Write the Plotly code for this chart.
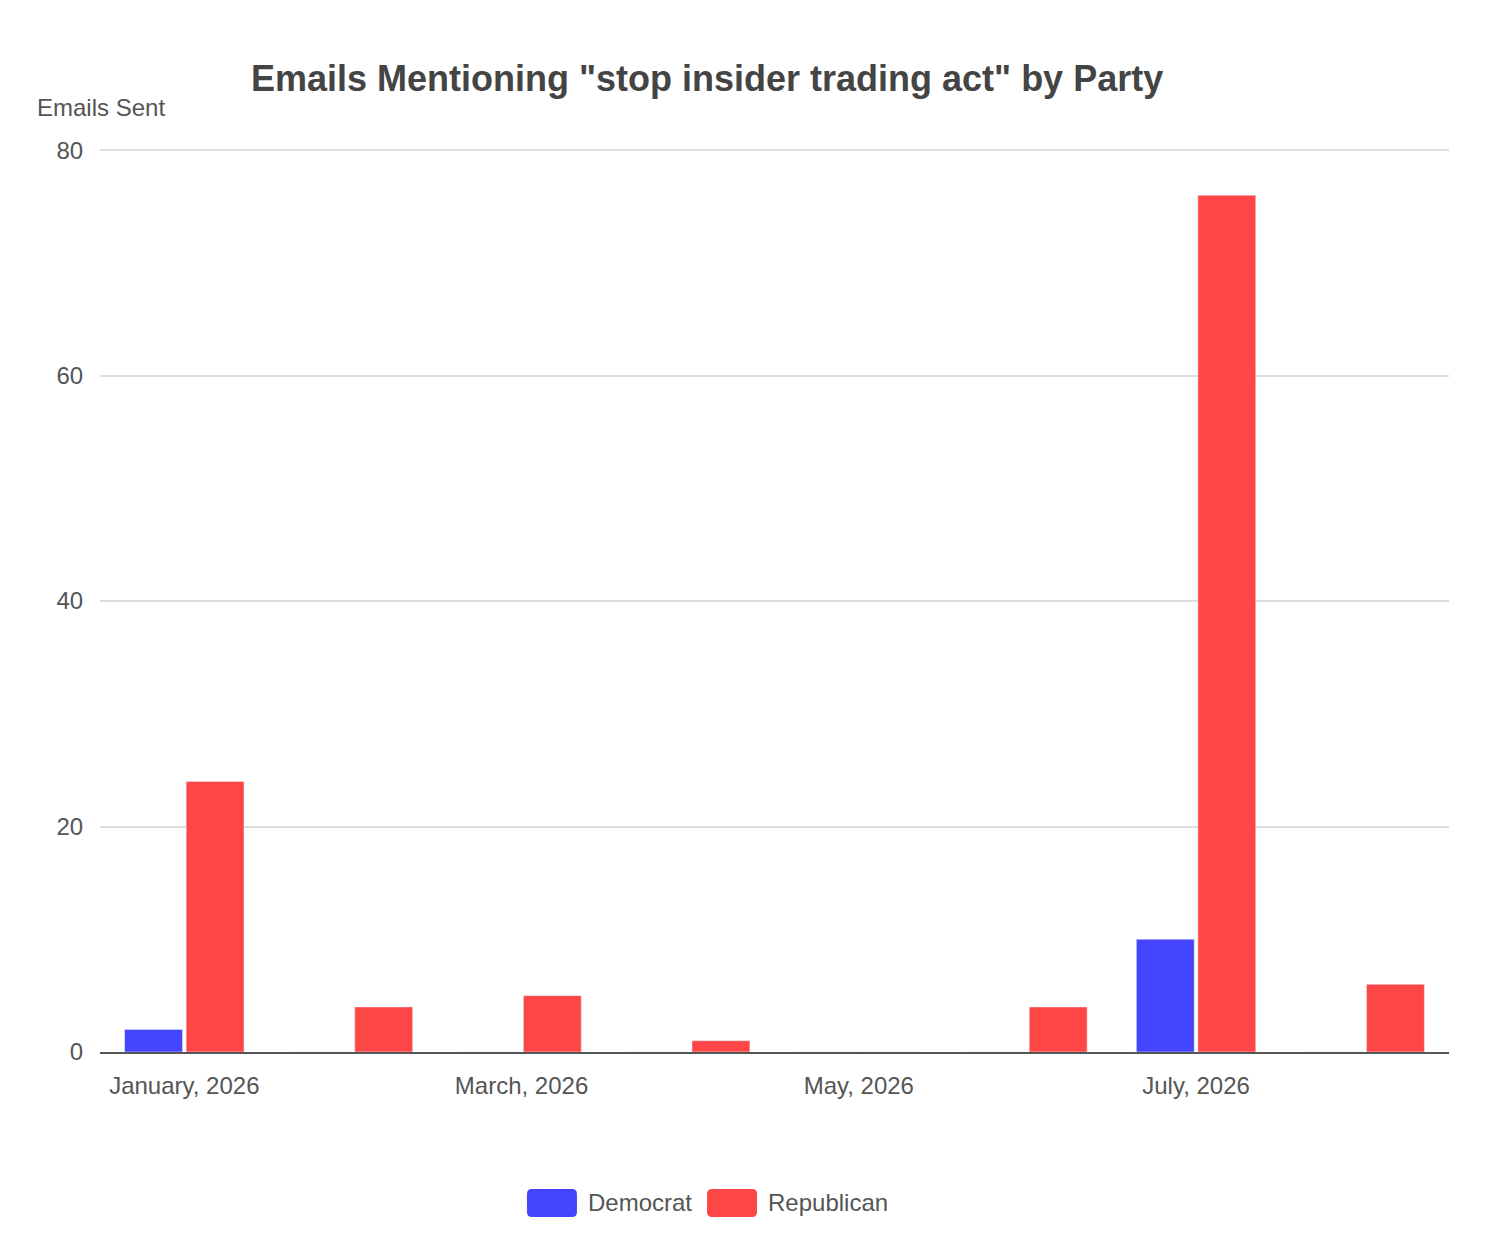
import plotly.graph_objects as go

# 月ごとのデータ
months = [
    "January, 2026", "February, 2026", "March, 2026", "April, 2026",
    "May, 2026", "June, 2026", "July, 2026", "August, 2026",
]
democrat   = [2, 0, 0, 0, 0, 0, 10, 0]
republican = [24, 4, 5, 1, 0, 4, 76, 6]
shown_ticks = ["January, 2026", "March, 2026", "May, 2026", "July, 2026"]
y_ticks = [0, 20, 40, 60, 80]

FONT = "Liberation Sans, Arial, Helvetica, sans-serif"
TEXT = "#555555"
COLORS = {"Democrat": "#4444FF", "Republican": "#FF4646"}

fig = go.Figure()

fig.add_trace(
    go.Bar(
        x=months,
        y=democrat,
        name="Democrat",
        marker_color=COLORS["Democrat"],
        showlegend=False,
    )
)
fig.add_trace(
    go.Bar(
        x=months,
        y=republican,
        name="Republican",
        marker_color=COLORS["Republican"],
        showlegend=False,
    )
)

fig.update_layout(
    title=dict(
        text='<b>Emails Mentioning "stop insider trading act" by Party</b>',
        x=0.4698, xref="container", xanchor="center",
        y=0.9443, yref="container", yanchor="middle",
        font=dict(size=36, color="#444444", family=FONT),
    ),
    width=1488,
    height=1256,
    margin=dict(l=92, r=47, t=141, b=212),
    paper_bgcolor="white",
    plot_bgcolor="white",
    barmode="group",
    bargap=0.27,
    bargroupgap=0.06,
    font=dict(family=FONT, size=24, color=TEXT),
)

fig.update_xaxes(
    type="category",
    range=[-0.5, 7.5],
    tickmode="array",
    tickvals=shown_ticks,
    ticktext=shown_ticks,
    ticks="outside",
    ticklen=11,
    tickcolor="rgba(0,0,0,0)",
    showgrid=False,
    showline=True,
    linecolor=TEXT,
    linewidth=2,
    tickfont=dict(size=24, color=TEXT),
)

fig.update_yaxes(
    range=[0, 80.1],
    tickmode="array",
    tickvals=y_ticks,
    showgrid=True,
    gridcolor="#DDDDDD",
    gridwidth=1.5,
    zeroline=False,
    ticks="outside",
    ticklen=11,
    tickcolor="rgba(0,0,0,0)",
    tickfont=dict(size=24, color=TEXT),
)

# 軸タイトル（左上に横書き）
fig.add_annotation(
    text="Emails Sent",
    xref="paper", yref="paper",
    x=-0.0485, xanchor="left",
    y=1.0465, yanchor="middle",
    showarrow=False,
    font=dict(size=24, color=TEXT, family=FONT),
)

# 凡例（角丸の色見本）
swatch = "M 5,-14 L 45,-14 Q 50,-14 50,-9 L 50,9 Q 50,14 45,14 L 5,14 Q 0,14 0,9 L 0,-9 Q 0,-14 5,-14 Z"
legend_y = -0.1672
for name, sx, tx in [("Democrat", 0.3165, 0.3602), ("Republican", 0.45, 0.4937)]:
    fig.add_shape(
        type="path",
        path=swatch,
        xref="paper", yref="paper",
        xsizemode="pixel", ysizemode="pixel",
        xanchor=sx, yanchor=legend_y,
        fillcolor=COLORS[name],
        line=dict(width=0),
    )
    fig.add_annotation(
        text=name,
        xref="paper", yref="paper",
        x=tx, xanchor="left",
        y=legend_y, yanchor="middle",
        showarrow=False,
        font=dict(size=24, color=TEXT, family=FONT),
    )

fig.write_html("out.html")
